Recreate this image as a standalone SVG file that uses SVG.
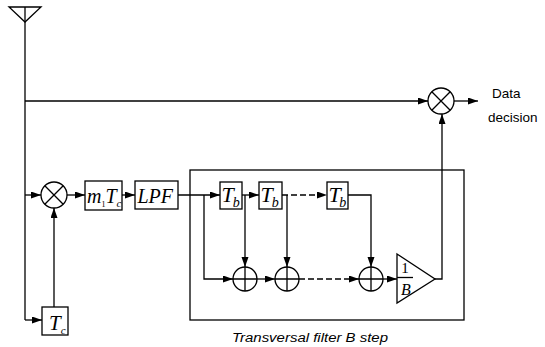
<svg xmlns="http://www.w3.org/2000/svg" width="545" height="347" viewBox="0 0 545 347">
<defs>
<marker id="ah" markerUnits="userSpaceOnUse" markerWidth="11" markerHeight="8" refX="10" refY="3.5" orient="auto">
<path d="M0,0 L10,3.5 L0,7 z" fill="#000"/>
</marker>
<style>
.ln{fill:none;stroke:#000;stroke-width:1.3}
.ar{fill:none;stroke:#000;stroke-width:1.3;marker-end:url(#ah)}
.da{stroke-dasharray:6,3}
.bx{fill:#fff;stroke:#000;stroke-width:1.3}
.tm{font-family:"Liberation Serif",serif;font-style:italic;fill:#000}
.sn{font-family:"Liberation Sans",Arial,sans-serif;fill:#000}
</style>
</defs>
<rect width="545" height="347" fill="#fff"/>
<g id="connectors">
<path class="ln" d="M25,7 V320"/>
<path class="ar" d="M25,101 H428"/>
<path class="ar" d="M454,101 H478"/>
<path class="ar" d="M25,195 H41"/>
<path class="ar" d="M25,320 H42"/>
<path class="ar" d="M54,307 V208"/>
<path class="ar" d="M67,195 H85"/>
<path class="ar" d="M122,195 H135"/>
<path class="ar" d="M178,195 H220"/>
<path class="ar" d="M204,195 V279 H233"/>
<path class="ar" d="M242,195 H259"/>
<path class="ar" d="M245,195 V267"/>
<path class="ar da" d="M282,195 H327"/>
<path class="ar" d="M287,195 V267"/>
<path class="ar" d="M348,195 H371 V267"/>
<path class="ar" d="M257,279 H275"/>
<path class="ar da" d="M299,279 H359"/>
<path class="ar" d="M383,279 H397"/>
<path class="ar" d="M435,279 H442 V114"/>
</g>
<g id="antenna"><path class="ln" d="M9,7 H41 L25,22 Z"/></g>
<g id="filterbox"><rect class="ln" x="190" y="170" width="274" height="150"/>
<text class="sn" x="232" y="342" font-size="12.5" font-style="italic" textLength="156" lengthAdjust="spacingAndGlyphs">Transversal filter B step</text></g>
<g id="mult1"><circle class="bx" cx="54" cy="195" r="13"/><path class="ln" d="M44.8,185.8 L63.2,204.2 M63.2,185.8 L44.8,204.2"/></g>
<g id="mult2"><circle class="bx" cx="441" cy="101" r="13"/><path class="ln" d="M431.8,91.8 L450.2,110.2 M450.2,91.8 L431.8,110.2"/></g>
<g id="output"><text class="sn" x="492" y="98" font-size="13.5">Data</text><text class="sn" x="488" y="122" font-size="13.5">decision</text></g>
<g id="tc"><rect class="bx" x="42" y="307" width="26" height="28"/><text class="tm" x="49" y="330" font-size="21">T<tspan font-size="11" dy="4">c</tspan></text></g>
<g id="m1tc"><rect class="bx" x="85" y="181" width="37" height="29"/><text class="tm" x="87" y="203" font-size="20">m<tspan font-size="8" font-style="normal" dy="4">1</tspan><tspan dy="-4">T</tspan><tspan font-size="11" dy="4">c</tspan></text></g>
<g id="lpf"><rect class="bx" x="135" y="181" width="43" height="28"/><text class="tm" x="137.5" y="203" font-size="20">LPF</text></g>
<g id="tb1"><rect class="bx" x="220" y="182" width="22" height="27"/><text class="tm" x="221.5" y="201.5" font-size="22">T<tspan font-size="14" dy="5" dx="-1">b</tspan></text></g>
<g id="tb2"><rect class="bx" x="259" y="182" width="23" height="27"/><text class="tm" x="260.5" y="201.5" font-size="22">T<tspan font-size="14" dy="5" dx="-1">b</tspan></text></g>
<g id="tb3"><rect class="bx" x="327" y="182" width="21" height="27"/><text class="tm" x="328.5" y="201.5" font-size="22">T<tspan font-size="14" dy="5" dx="-1.5">b</tspan></text></g>
<g id="add1"><circle class="bx" cx="245" cy="279" r="12"/><path class="ln" d="M233,279 H257 M245,267 V291"/></g>
<g id="add2"><circle class="bx" cx="287" cy="279" r="12"/><path class="ln" d="M275,279 H299 M287,267 V291"/></g>
<g id="add3"><circle class="bx" cx="371" cy="279" r="12"/><path class="ln" d="M359,279 H383 M371,267 V291"/></g>
<g id="gain"><path class="bx" d="M397,254 L435,279 L397,303 Z"/><path class="ln" d="M397,277.5 H413"/>
<text x="405" y="273" font-size="15" text-anchor="middle" font-family="Liberation Serif,serif">1</text>
<text class="tm" x="406" y="295" font-size="16" text-anchor="middle">B</text></g>
</svg>
